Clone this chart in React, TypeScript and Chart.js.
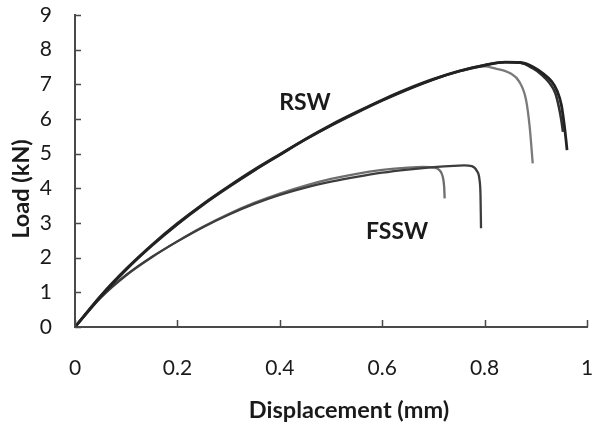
import React, { useEffect, useRef } from "react";
import { Chart, registerables } from "chart.js";

Chart.register(...registerables);

// ---- data (displacement in mm, load in kN) ----
const rswAX = [0, 0.05, 0.1, 0.15, 0.2, 0.25, 0.3, 0.35, 0.4, 0.45, 0.5, 0.55, 0.6, 0.65, 0.7, 0.75, 0.8, 0.84, 0.87, 0.895, 0.915, 0.93, 0.942, 0.95, 0.955, 0.959, 0.961];
const rswAY = [0, 0.88, 1.66, 2.35, 2.97, 3.53, 4.04, 4.52, 4.97, 5.42, 5.83, 6.2, 6.55, 6.87, 7.15, 7.38, 7.55, 7.64, 7.63, 7.5, 7.3, 7.1, 6.8, 6.4, 5.9, 5.4, 5.1];

const rswBX = [0, 0.05, 0.1, 0.15, 0.2, 0.25, 0.3, 0.35, 0.4, 0.45, 0.5, 0.55, 0.6, 0.65, 0.7, 0.75, 0.8, 0.84, 0.87, 0.893, 0.912, 0.926, 0.938, 0.945, 0.95, 0.953];
const rswBY = [0, 0.9, 1.68, 2.37, 2.99, 3.55, 4.06, 4.54, 4.98, 5.41, 5.81, 6.18, 6.53, 6.85, 7.14, 7.38, 7.56, 7.64, 7.62, 7.47, 7.27, 7.05, 6.75, 6.35, 5.95, 5.63];

const rswCX = [0, 0.05, 0.1, 0.15, 0.2, 0.25, 0.3, 0.35, 0.4, 0.45, 0.5, 0.55, 0.6, 0.65, 0.7, 0.75, 0.8, 0.82, 0.85, 0.868, 0.881, 0.888, 0.894];
const rswCY = [0, 0.87, 1.65, 2.34, 2.96, 3.52, 4.03, 4.51, 4.96, 5.4, 5.81, 6.19, 6.54, 6.86, 7.14, 7.37, 7.52, 7.46, 7.32, 7.07, 6.55, 5.78, 4.72];

const fsswDX = [0, 0.05, 0.1, 0.15, 0.2, 0.25, 0.3, 0.35, 0.4, 0.45, 0.5, 0.55, 0.6, 0.65, 0.7, 0.74, 0.76, 0.775, 0.785, 0.79, 0.792, 0.793];
const fsswDY = [0, 0.85, 1.5, 2.02, 2.47, 2.88, 3.24, 3.55, 3.81, 4.02, 4.19, 4.33, 4.45, 4.54, 4.61, 4.65, 4.66, 4.64, 4.5, 4.25, 3.8, 2.85];

const fsswEX = [0, 0.05, 0.1, 0.15, 0.2, 0.25, 0.3, 0.35, 0.4, 0.45, 0.5, 0.55, 0.6, 0.65, 0.68, 0.7, 0.712, 0.718, 0.721, 0.722];
const fsswEY = [0, 0.84, 1.49, 2.01, 2.47, 2.89, 3.26, 3.58, 3.85, 4.08, 4.27, 4.42, 4.53, 4.6, 4.62, 4.6, 4.52, 4.35, 4.05, 3.71];

const xTicks = [0, 0.2, 0.4, 0.6, 0.8, 1];
const yTicks = [0, 1, 2, 3, 4, 5, 6, 7, 8, 9];

const xTitle = "Displacement (mm)";
const yTitle = "Load (kN)";
const curveLabels = ["RSW", "FSSW"];
const curveLabelPos = [
  { x: 0.449, y: 6.46 },
  { x: 0.629, y: 2.74 },
];

const zip = (xs: number[], ys: number[]) => xs.map((x, i) => ({ x, y: ys[i] }));

const FONT = "Lato, 'Open Sans', sans-serif";
const TEXT = "#1a1a1a";
const AXIS = "#4a4a4a";

const extrasPlugin = {
  id: "extras",
  afterDraw(chart: any) {
    const { ctx, chartArea } = chart;
    const xs = chart.scales.x;
    const ys = chart.scales.y;
    ctx.save();
    // inward tick marks
    ctx.strokeStyle = AXIS;
    ctx.lineWidth = 1.5;
    ctx.beginPath();
    yTicks.forEach((v) => {
      const py = Math.round(ys.getPixelForValue(v)) + 0.5;
      ctx.moveTo(chartArea.left, py);
      ctx.lineTo(chartArea.left + 6, py);
    });
    xTicks.forEach((v) => {
      const px = Math.round(xs.getPixelForValue(v)) + 0.5;
      ctx.moveTo(px, chartArea.bottom);
      ctx.lineTo(px, chartArea.bottom - 7);
    });
    ctx.stroke();

    // curve labels
    ctx.fillStyle = TEXT;
    ctx.font = `bold 23px ${FONT}`;
    ctx.textAlign = "center";
    ctx.textBaseline = "middle";
    curveLabels.forEach((t, i) => {
      ctx.fillText(t, xs.getPixelForValue(curveLabelPos[i].x), ys.getPixelForValue(curveLabelPos[i].y));
    });

    // axis titles
    ctx.font = `bold 23.5px ${FONT}`;
    ctx.fillText(xTitle, (chartArea.left + chartArea.right) / 2 + 18, chartArea.bottom + 83);
    ctx.translate(21, (chartArea.top + chartArea.bottom) / 2 + 18);
    ctx.rotate(-Math.PI / 2);
    ctx.fillText(yTitle, 0, 0);
    ctx.restore();
  },
};

export default function App() {
  const ref = useRef<HTMLCanvasElement>(null);

  useEffect(() => {
    document.body.style.margin = "0";
    const mk = (xs: number[], ys: number[], color: string, w: number) => ({
      data: zip(xs, ys),
      borderColor: color,
      borderWidth: w,
      pointRadius: 0,
      showLine: true,
      fill: false,
      cubicInterpolationMode: "monotone" as const,
    });
    const chart = new Chart(ref.current!, {
      type: "scatter",
      data: {
        datasets: [
          mk(rswAX, rswAY, "#222222", 2.8),
          mk(rswBX, rswBY, "#303030", 2.5),
          mk(fsswDX, fsswDY, "#3d3d3d", 2.3),
          mk(fsswEX, fsswEY, "#6e6e6e", 2.3),
          mk(rswCX, rswCY, "#7a7a7a", 2.3),
        ],
      },
      plugins: [extrasPlugin],
      options: {
        responsive: false,
        animation: false,
        layout: { padding: { top: 15, right: 6, left: 0, bottom: 0 } },
        plugins: { legend: { display: false }, tooltip: { enabled: false } },
        scales: {
          x: {
            type: "linear",
            min: 0,
            max: 1,
            afterBuildTicks: (s: any) => {
              s.ticks = xTicks.map((v) => ({ value: v }));
            },
            afterFit: (s: any) => {
              s.height = 98;
              s.paddingLeft = 0;
              s.paddingRight = 0;
            },
            grid: { display: true, drawOnChartArea: false, drawTicks: false },
            border: { display: true, color: AXIS, width: 2 },
            ticks: {
              padding: 29,
              color: TEXT,
              font: { family: FONT, size: 21 },
              maxRotation: 0,
              callback: (v: any) => String(Number(v)),
            },
          },
          y: {
            type: "linear",
            min: 0,
            max: 9,
            afterBuildTicks: (s: any) => {
              s.ticks = yTicks.map((v) => ({ value: v }));
            },
            afterFit: (s: any) => {
              s.width = 75;
              s.paddingTop = 0;
              s.paddingBottom = 0;
            },
            grid: { display: true, drawOnChartArea: false, drawTicks: false },
            border: { display: true, color: AXIS, width: 2 },
            ticks: {
              padding: 23,
              color: TEXT,
              font: { family: FONT, size: 21 },
              callback: (v: any) => String(Number(v)),
            },
          },
        },
      },
    });
    return () => chart.destroy();
  }, []);

  return (
    <div style={{ position: "absolute", left: 0, top: 0, width: 593, height: 425, background: "#fff" }}>
      <canvas ref={ref} width={593} height={425} />
    </div>
  );
}
